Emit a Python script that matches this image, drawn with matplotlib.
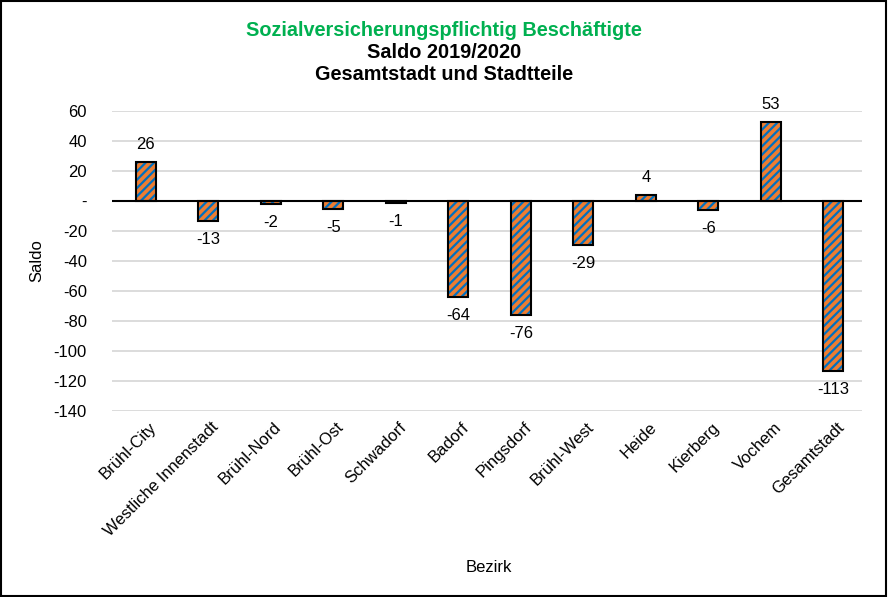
import matplotlib
matplotlib.use("Agg")
import matplotlib.pyplot as plt
from matplotlib.patches import Rectangle
from matplotlib.transforms import ScaledTranslation

plt.rcParams['font.family'] = ['Liberation Sans', 'DejaVu Sans']
plt.rcParams['hatch.linewidth'] = 1.6

categories = ["Brühl-City", "Westliche Innenstadt", "Brühl-Nord", "Brühl-Ost", "Schwadorf",
              "Badorf", "Pingsdorf", "Brühl-West", "Heide", "Kierberg", "Vochem", "Gesamtstadt"]
values = [26, -13, -2, -5, -1, -64, -76, -29, 4, -6, 53, -113]
yticks = [60, 40, 20, 0, -20, -40, -60, -80, -100, -120, -140]
ytick_labels = ["60", "40", "20", "-", "-20", "-40", "-60", "-80", "-100", "-120", "-140"]

fig = plt.figure(figsize=(8.88, 5.97), dpi=100)
ax = fig.add_axes([112/888, 1-411/597, 750/888, 300/597])

x = list(range(len(categories)))
# fill + blue hatch
ax.bar(x, values, width=0.32, color='#ED7D31', edgecolor='#0070C0', linewidth=0,
       hatch='////', zorder=3)
# black outline
ax.bar(x, values, width=0.32, fill=False, edgecolor='black', linewidth=1.5, zorder=4)

for xi, v in zip(x, values):
    if v >= 0:
        ax.annotate(str(v), (xi, v), xytext=(0, 7), textcoords='offset points',
                    ha='center', va='bottom', fontsize=12)
    else:
        ax.annotate(str(v), (xi, v), xytext=(0, -8), textcoords='offset points',
                    ha='center', va='top', fontsize=12)

ax.set_ylim(-140, 60)
ax.set_xlim(-0.54, len(categories) - 0.54)
ax.set_yticks(yticks)
ax.set_yticklabels(ytick_labels, fontsize=12)
ax.tick_params(axis='y', length=0, pad=18)
ax.tick_params(axis='x', length=0, pad=6)
ax.set_xticks(x)
ax.set_xticklabels(categories, rotation=45, ha='right', rotation_mode='anchor', fontsize=12)
off = ScaledTranslation(3/100, 0, fig.dpi_scale_trans)
for lbl in ax.get_xticklabels():
    lbl.set_transform(lbl.get_transform() + off)
ax.yaxis.grid(True, color='#D9D9D9', linewidth=1.3, zorder=0)
ax.axhline(0, color='black', linewidth=1.5, zorder=5)
for s in ax.spines.values():
    s.set_visible(False)

ax.set_ylabel("Saldo", fontsize=12)
ax.yaxis.set_label_coords((44-112)/750, 1-(261-111)/300)
ax.set_xlabel("Bezirk", fontsize=12)
ax.xaxis.set_label_coords((489-112)/750, 1-(560-111)/300)

fig.text(444/888, 1-30/597, "Sozialversicherungspflichtig Beschäftigte", ha='center', va='center',
         fontsize=14.3, fontweight='bold', color='#00B050')
fig.text(444/888, 1-52/597, "Saldo 2019/2020", ha='center', va='center', fontsize=14.3, fontweight='bold')
fig.text(444/888, 1-74/597, "Gesamtstadt und Stadtteile", ha='center', va='center', fontsize=14.3, fontweight='bold')

fig.patches.append(Rectangle((0.001, 0.002), 0.997, 0.996, transform=fig.transFigure,
                             fill=False, edgecolor='black', linewidth=1.5))

fig.savefig("out.png", dpi=100)
